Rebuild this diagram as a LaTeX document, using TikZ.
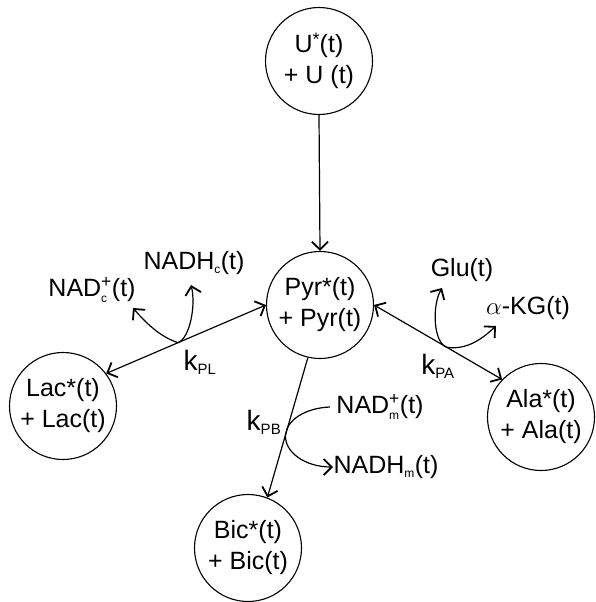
\documentclass[tikz,border=0pt]{standalone}
\usepackage{amsmath}
\usepackage{fontspec}
\setmainfont{Liberation Sans}
\usetikzlibrary{arrows.meta,calc}
\newcommand\smallsub[1]{\text{\fontsize{12}{12}\selectfont #1}}
\newcommand\ksub[1]{\text{\fontsize{15}{15}\selectfont #1}}
\begin{document}
\begin{tikzpicture}[x=1pt,y=-1pt,
  font=\fontsize{25}{31}\selectfont,
  >={Straight Barb[length=8pt,width=16pt,line width=1.8pt]},
  pool/.style={draw, circle, minimum size=107pt, inner sep=0pt, align=center, line width=1.1pt},
  lbl/.style={inner sep=0pt},
  klbl/.style={inner sep=0pt, font=\fontsize{28}{31}\selectfont},
  conn/.style={line width=1.2pt},
]
\useasboundingbox (0,0) rectangle (595,602);

% pools
\node[pool] (U)   at (319,61)  {U\raisebox{0.3em}{\fontsize{18}{18}\selectfont *}(t)\\+ U (t)};
\node[pool] (Pyr) at (320,305) {Pyr*(t)\\+ Pyr(t)};
\node[pool] (Lac) at (63,406)  {Lac*(t)\\+ Lac(t)};
\node[pool] (Ala) at (541,417) {Ala*(t)\\+ Ala(t)};
\node[pool] (Bic) at (248,548) {Bic*(t)\\+ Bic(t)};

% labels
\node[lbl] (NADc)  at (92,290)  {NAD$^{\text{+}}_{\smallsub{c}}$(t)};
\node[lbl] (NADHc) at (194,263) {NADH$_{\smallsub{c}}$(t)};
\node[lbl] (Glu)   at (462,270) {Glu(t)};
\node[lbl] (aKG)   at (528,308) {$\alpha$-KG(t)};
\node[lbl] (NADm)  at (380,407) {NAD$^{\text{+}}_{\smallsub{m}}$(t)};
\node[lbl] (NADHm) at (386,467) {NADH$_{\smallsub{m}}$(t)};
\node[klbl] (kPL)  at (200,362) {k$_{\ksub{PL}}$};
\node[klbl] (kPB)  at (264,422) {k$_{\ksub{PB}}$};
\node[klbl] (kPA)  at (438,366) {k$_{\ksub{PA}}$};

% main connectors
\draw[conn,->]  (U.south) -- (Pyr.north);
\draw[conn,<->] (Lac.37) -- (Pyr.180);
\draw[conn,<->] (Pyr.0) -- (Ala.136);
\draw[conn,->]  (Pyr.257) -- (Bic.69);

% base points on the connectors
\coordinate (bL) at ($(Lac.37)!0.45!(Pyr.180)$);
\coordinate (bA) at ($(Pyr.0)!0.57!(Ala.136)$);
\coordinate (bB) at ($(Pyr.257)!0.55!(Bic.69)$);

% free ends of the side reactions
\coordinate (tNADc)  at (133,308);
\coordinate (tNADHc) at (191,285);
\coordinate (tGlu)   at (442,288);
\coordinate (taKG)   at (496,326);
\coordinate (sNADm)  at (330,407);
\coordinate (tNADHm) at (333,467);

\draw[conn,->] (bL) .. controls (160,337) and (145,322) .. (tNADc);
\draw[conn,->] (bL) .. controls (190,338) and (196,305) .. (tNADHc);
\draw[conn,->] (bA) .. controls (433,343) and (432,305) .. (tGlu);
\draw[conn,->] (bA) .. controls (468,350) and (483,338) .. (taKG);
\draw[conn,->] (sNADm) .. controls (305,408) and (287,420) .. (bB)
               .. controls (284,452) and (305,467) .. (tNADHm);
\end{tikzpicture}
\end{document}
